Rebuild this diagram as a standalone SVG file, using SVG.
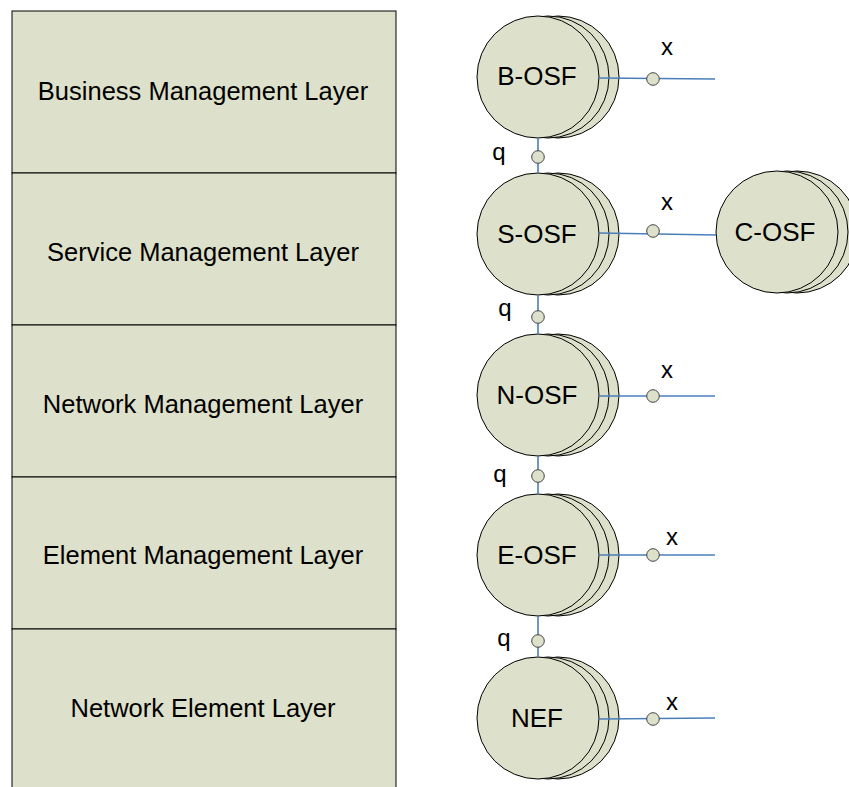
<svg xmlns="http://www.w3.org/2000/svg" width="849" height="787" viewBox="0 0 849 787">
<defs>
<style>
.layer{fill:#dde0ca;stroke:#000;stroke-width:1}
.ltxt{font-family:"Liberation Sans",Arial,sans-serif;font-size:25.5px;fill:#000;text-anchor:middle}
.osf{fill:#dde0ca;stroke:#000;stroke-width:1}
.ntxt{font-family:"Liberation Sans",Arial,sans-serif;font-size:26px;fill:#000;text-anchor:middle}
.lbl{font-family:"Liberation Sans",Arial,sans-serif;font-size:24px;fill:#000;text-anchor:middle}
.wire{stroke:#4a7ebb;stroke-width:1.6;fill:none}
.port{fill:#dde0ca;stroke:#444;stroke-width:1}
</style>
</defs>
<rect width="849" height="787" fill="#fff"/>

<g id="layer-business"><rect class="layer" x="12" y="11" width="384" height="162"/><text class="ltxt" x="203" y="100">Business Management Layer</text></g>
<g id="layer-service"><rect class="layer" x="12" y="173" width="384" height="152"/><text class="ltxt" x="203" y="261">Service Management Layer</text></g>
<g id="layer-network"><rect class="layer" x="12" y="325" width="384" height="152"/><text class="ltxt" x="203" y="413">Network Management Layer</text></g>
<g id="layer-element"><rect class="layer" x="12" y="477" width="384" height="152"/><text class="ltxt" x="203" y="564">Element Management Layer</text></g>
<g id="layer-ne"><rect class="layer" x="12" y="629" width="384" height="162"/><text class="ltxt" x="203" y="717">Network Element Layer</text></g>

<g id="b-osf"><circle class="osf" cx="558" cy="77" r="61"/><circle class="osf" cx="548" cy="77" r="61"/><circle class="osf" cx="538" cy="77" r="61"/><text class="ntxt" x="537" y="85">B-OSF</text></g>
<g id="s-osf"><circle class="osf" cx="558" cy="234" r="61"/><circle class="osf" cx="548" cy="234" r="61"/><circle class="osf" cx="538" cy="234" r="61"/><text class="ntxt" x="537" y="243">S-OSF</text></g>
<g id="c-osf"><circle class="osf" cx="797" cy="232" r="61"/><circle class="osf" cx="787" cy="232" r="61"/><circle class="osf" cx="777" cy="232" r="61"/><text class="ntxt" x="775" y="241">C-OSF</text></g>
<g id="n-osf"><circle class="osf" cx="558" cy="395" r="61"/><circle class="osf" cx="548" cy="395" r="61"/><circle class="osf" cx="538" cy="395" r="61"/><text class="ntxt" x="537" y="404">N-OSF</text></g>
<g id="e-osf"><circle class="osf" cx="558" cy="555" r="61"/><circle class="osf" cx="548" cy="555" r="61"/><circle class="osf" cx="538" cy="555" r="61"/><text class="ntxt" x="537" y="564">E-OSF</text></g>
<g id="nef"><circle class="osf" cx="558" cy="718" r="61"/><circle class="osf" cx="548" cy="718" r="61"/><circle class="osf" cx="538" cy="718" r="61"/><text class="ntxt" x="537" y="727">NEF</text></g>

<g id="connectors">
<line class="wire" x1="538" y1="138" x2="538" y2="173"/>
<line class="wire" x1="538" y1="295" x2="538" y2="334"/>
<line class="wire" x1="538" y1="456" x2="538" y2="494"/>
<line class="wire" x1="538" y1="616" x2="538" y2="657"/>
<line class="wire" x1="599" y1="78" x2="715" y2="79"/>
<line class="wire" x1="599" y1="233" x2="716" y2="235"/>
<line class="wire" x1="599" y1="396" x2="715" y2="396"/>
<line class="wire" x1="599" y1="555" x2="715" y2="555"/>
<line class="wire" x1="599" y1="719" x2="715" y2="718"/>
<circle class="port" cx="538" cy="157" r="6.3"/>
<circle class="port" cx="538" cy="317" r="6.3"/>
<circle class="port" cx="538" cy="476" r="6.3"/>
<circle class="port" cx="538" cy="641" r="6.3"/>
<circle class="port" cx="653" cy="79" r="6.3"/>
<circle class="port" cx="653" cy="231" r="6.3"/>
<circle class="port" cx="653" cy="396" r="6.3"/>
<circle class="port" cx="653" cy="555" r="6.3"/>
<circle class="port" cx="653" cy="719" r="6.3"/>
<text class="lbl" x="499" y="160">q</text>
<text class="lbl" x="505" y="316">q</text>
<text class="lbl" x="500" y="482">q</text>
<text class="lbl" x="504" y="646">q</text>
<text class="lbl" x="667" y="55">x</text>
<text class="lbl" x="667" y="210">x</text>
<text class="lbl" x="667" y="378">x</text>
<text class="lbl" x="672" y="545">x</text>
<text class="lbl" x="672" y="710">x</text>
</g>
</svg>
